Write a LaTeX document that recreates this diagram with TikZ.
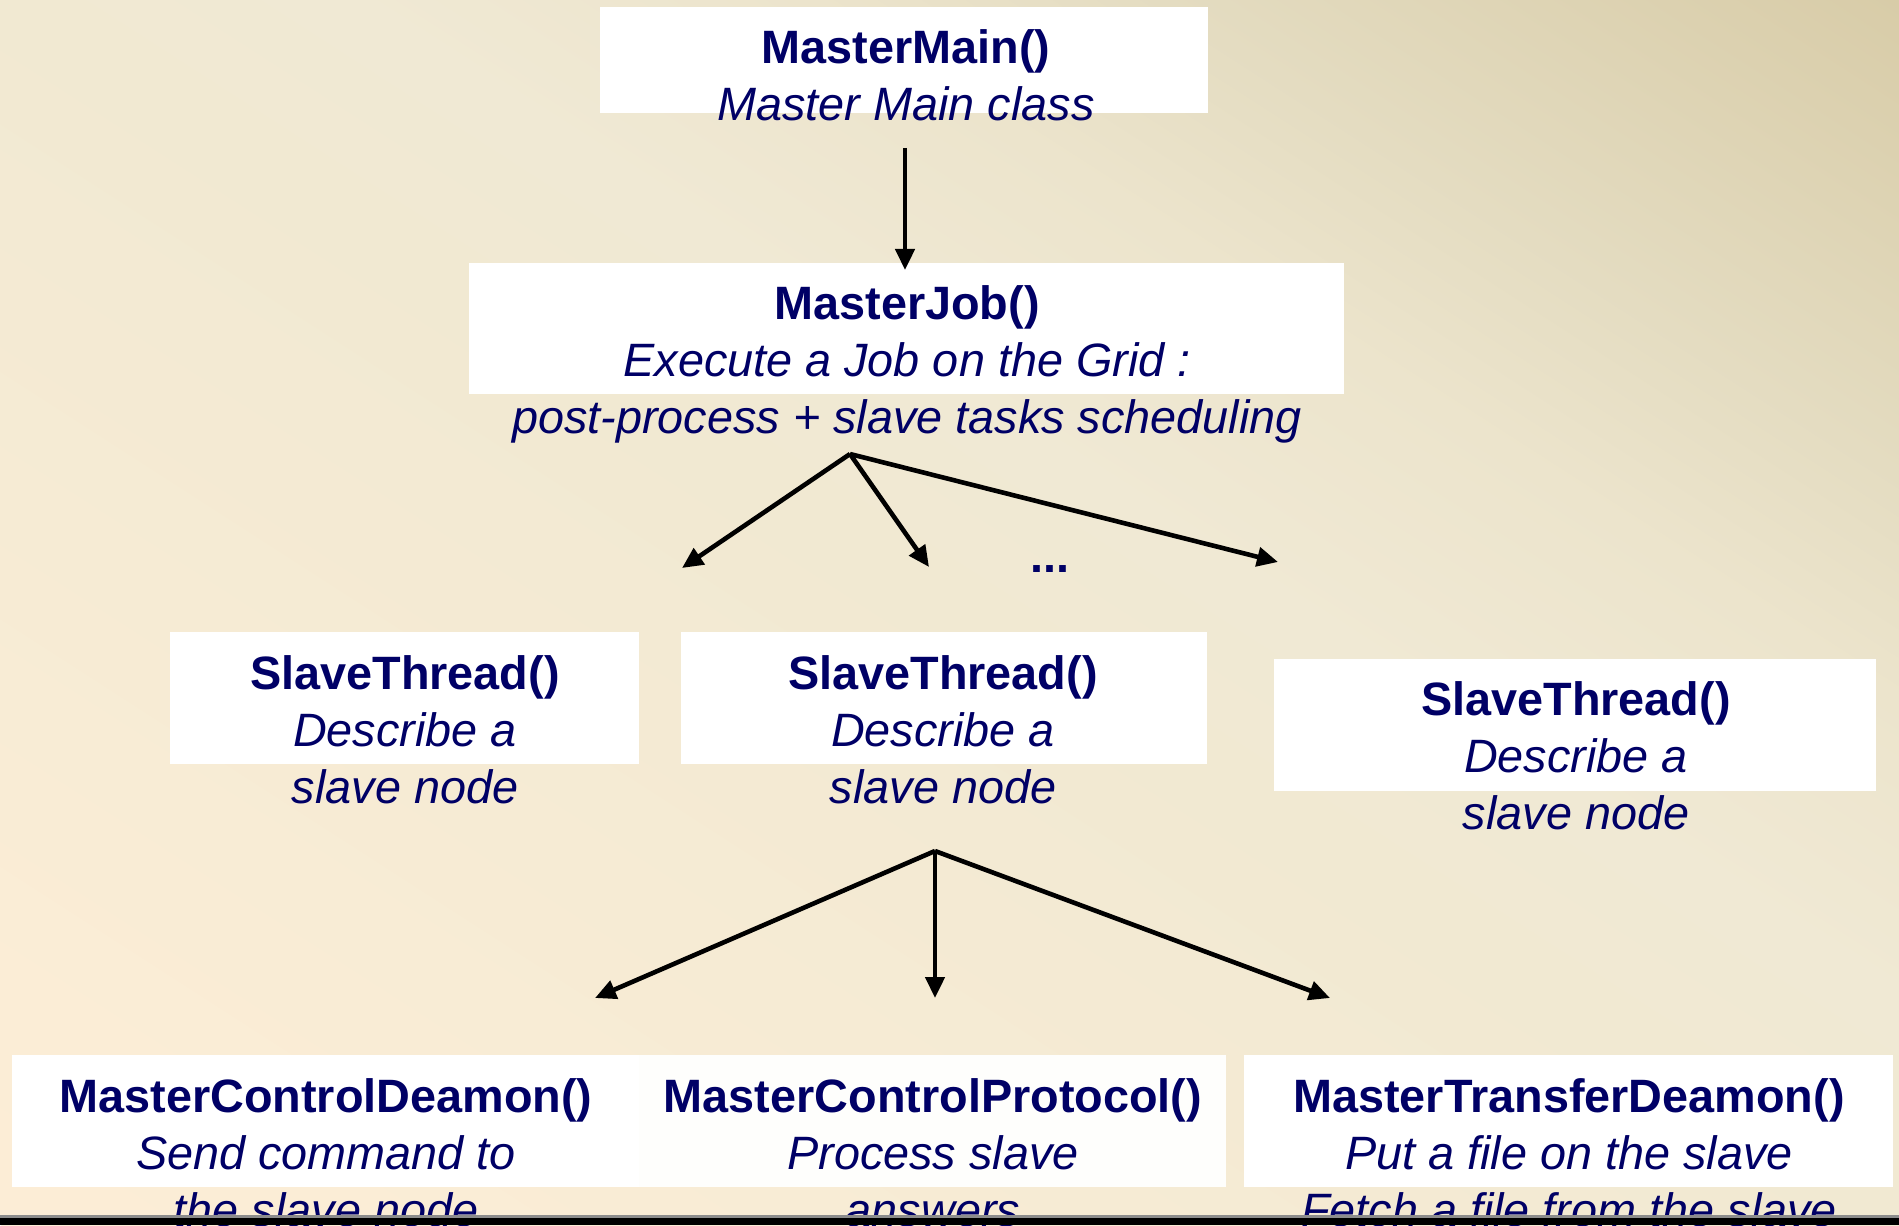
\documentclass[tikz,border=0pt]{standalone}
\usepackage{fontspec}
\setmainfont{Liberation Sans}
\usetikzlibrary{arrows.meta}
\definecolor{ink}{RGB}{0,0,102}
\definecolor{bgA}{HTML}{FCEDD6}
\definecolor{bgB}{HTML}{FBEDD6}
\definecolor{bgC}{HTML}{F1E9D2}
\definecolor{bgD}{HTML}{F0E9D4}
\definecolor{bgE}{HTML}{ECE4CC}
\definecolor{bgF}{HTML}{E4DCC1}
\definecolor{bgG}{HTML}{D8CCA8}
\definecolor{boxmid}{HTML}{FEFEFC}
\pgfdeclarehorizontalshading{bgshade}{100bp}{color(0bp)=(bgA); color(25bp)=(bgA); color(29.8bp)=(bgB); color(50bp)=(bgC); color(54.6bp)=(bgD); color(60.7bp)=(bgE); color(65.3bp)=(bgF); color(75bp)=(bgG); color(100bp)=(bgG)}
\newcommand{\twoline}[2]{\begin{tabular}[t]{@{}c@{}}\textbf{#1}\\\textit{#2}\end{tabular}}
\newcommand{\threeline}[3]{\begin{tabular}[t]{@{}c@{}}\textbf{#1}\\\textit{#2}\\\textit{#3}\end{tabular}}
\begin{document}
\begin{tikzpicture}[x=0.5pt,y=-0.5pt,
  whitebox/.style={fill=white,draw=none},
  lbl/.style={inner sep=0pt,anchor=base,text=ink,font=\fontsize{23.4}{28.5}\selectfont},
  arr/.style={line width=2.3pt,-{Triangle[length=10.5pt,width=9.5pt]}}]
\useasboundingbox (0,0) rectangle (1899,1225);
\begin{scope}
  \clip (0,0) rectangle (1899,1225);
  \begin{scope}[transform canvas={shift={(949.5,612.5)},rotate=57.2}]
    \shade[shading=bgshade] (-1029,-1160) rectangle (1029,1160);
  \end{scope}
\end{scope}

% white boxes
\fill[whitebox] (600,7) rectangle (1208,113);
\fill[whitebox] (469,263) rectangle (1344,394);
\fill[whitebox] (170,632) rectangle (639,764);
\fill[whitebox] (681,632) rectangle (1207,764);
\fill[whitebox] (1274,659) rectangle (1876,791);
\fill[whitebox] (12,1055) rectangle (639,1187);
\fill[boxmid] (639,1055) rectangle (1226,1187);
\fill[whitebox] (1244,1055) rectangle (1893,1187);

% texts
\node[lbl] (mm) at (906,64) {\twoline{MasterMain()}{Master Main class}};
\node[lbl] (mj) at (907,319) {\threeline{MasterJob()}{Execute a Job on the Grid :}{post-process + slave tasks scheduling}};
\node[lbl] (st1) at (405,689) {\threeline{SlaveThread()}{Describe a}{slave node}};
\node[lbl] (st2) at (943,689) {\threeline{SlaveThread()}{Describe a}{slave node}};
\node[lbl] (st3) at (1576,715) {\threeline{SlaveThread()}{Describe a}{slave node}};
\node[lbl] (mcd) at (326,1112) {\threeline{MasterControlDeamon()}{Send command to}{the slave node}};
\node[lbl] (mcp) at (933,1112) {\threeline{MasterControlProtocol()}{Process slave}{answers}};
\node[lbl] (mtd) at (1569,1112) {\threeline{MasterTransferDeamon()}{Put a file on the slave}{Fetch a file from the slave}};
\node[lbl,font=\fontsize{23.4}{28.5}\selectfont\bfseries] (dots) at (1050,572) {...};

% connector end points
\coordinate (mmout) at (905,148);
\coordinate (mjin) at (905,270);
\coordinate (mjout) at (850,454);
\coordinate (st1in) at (682,568);
\coordinate (st2in) at (929,567);
\coordinate (st3in) at (1278,562);
\coordinate (st2out) at (935,851);
\coordinate (mcdin) at (595,998);
\coordinate (mcpin) at (935,998);
\coordinate (mtdin) at (1330,998);

\draw[arr] (mmout) -- (mjin);
\draw[arr] (mjout) -- (st1in);
\draw[arr] (mjout) -- (st2in);
\draw[arr] (mjout) -- (st3in);
\draw[arr] (st2out) -- (mcdin);
\draw[arr] (st2out) -- (mcpin);
\draw[arr] (st2out) -- (mtdin);

% bottom bar
\fill[black!45] (0,1215) rectangle (1899,1218);
\fill[black] (0,1218) rectangle (1899,1225);
\end{tikzpicture}
\end{document}
